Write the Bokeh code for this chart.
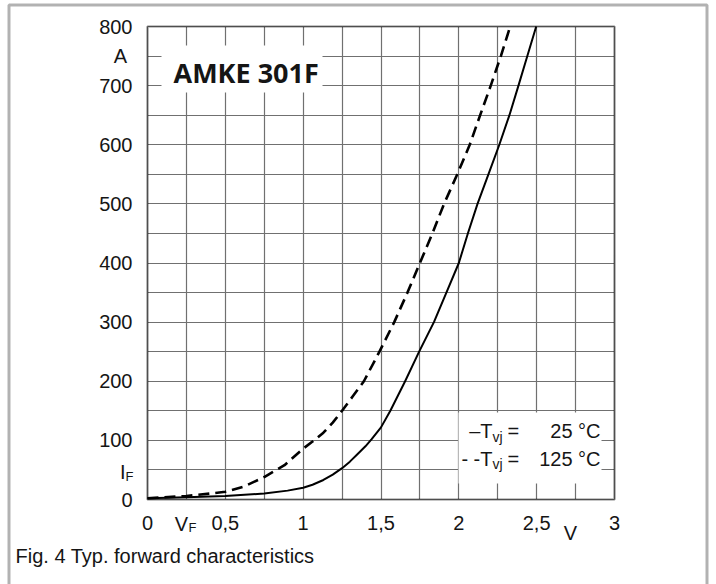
from bokeh.plotting import figure
from bokeh.models import FixedTicker, Label, BoxAnnotation, Range1d, Grid
from bokeh.embed import file_html
from bokeh.resources import INLINE

# ---- data ----
v_25 = [0, 0.25, 0.5, 0.75, 0.9, 1.0, 1.06, 1.13, 1.19, 1.25, 1.3, 1.35, 1.4, 1.44,
        1.5, 1.56, 1.655, 1.745, 1.84, 1.92, 2.0, 2.058, 2.12, 2.19, 2.26, 2.325,
        2.383, 2.44, 2.497]
i_25 = [2, 4, 6, 10, 15, 20, 25, 33, 42, 53, 64, 77, 90, 102,
        122, 150, 200, 250, 300, 350, 400, 450, 500, 550, 600, 650,
        700, 750, 800]

v_125 = [0, 0.25, 0.4, 0.5, 0.62, 0.75, 0.88, 1.0, 1.06, 1.13, 1.19, 1.25, 1.32,
         1.39, 1.49, 1.585, 1.67, 1.75, 1.83, 1.905, 1.99, 2.07, 2.137, 2.205,
         2.27, 2.33]
i_125 = [2, 6, 10, 13, 22, 38, 58, 86, 98, 113, 130, 150, 175,
         200, 250, 300, 350, 400, 450, 500, 550, 600, 650, 700,
         750, 800]

x_ticks = [0, 0.5, 1, 1.5, 2, 2.5, 3]
x_tick_labels = ["0", "0,5", "1", "1,5", "2", "2,5", "3"]
x_minor = [0.25, 0.75, 1.25, 1.75, 2.25, 2.75]
y_ticks = [0, 100, 200, 300, 400, 500, 600, 700, 800]
y_minor = [50, 150, 250, 350, 450, 550, 650, 750]

title_text = "AMKE 301F"
caption_text = "Fig. 4 Typ. forward characteristics"

# ---- layout (pixel positions of the plotting area inside the canvas) ----
W, H = 716, 584
FL, FR, FT, FB = 147, 614, 26, 499
XMAX, YMAX = 3, 800
FONT = "Liberation Sans"
INK = "#151515"
GRID = "#707070"
SHIFT = 7  # compensation for where the svg text baseline lands


def dx(px):
    return (px - FL) / (FR - FL) * XMAX


def dy(py):
    return (FB - py) / (FB - FT) * YMAX


p = figure(width=W, height=H,
           x_range=Range1d(dx(0), dx(W)), y_range=Range1d(dy(H), dy(0)),
           output_backend="svg", toolbar_location=None)
p.min_border = 0
p.min_border_left = 0
p.min_border_right = 0
p.min_border_top = 0
p.min_border_bottom = 0
p.title.visible = False
p.title_location = None
p.background_fill_color = "white"
p.border_fill_color = "white"
p.outline_line_color = None

# axes, pinned to the edges of the plotting area
p.xaxis.ticker = FixedTicker(ticks=x_ticks, minor_ticks=x_minor)
p.xaxis.major_label_overrides = dict(zip(x_ticks, x_tick_labels))
p.yaxis.ticker = FixedTicker(ticks=y_ticks, minor_ticks=y_minor)
p.xaxis.fixed_location = 0
p.yaxis.fixed_location = 0
for ax in (p.xaxis, p.yaxis):
    ax.axis_line_color = None
    ax.major_tick_line_color = None
    ax.minor_tick_line_color = None
    ax.major_tick_in = 0
    ax.major_tick_out = 0
    ax.minor_tick_in = 0
    ax.minor_tick_out = 0
    ax.major_label_text_font = FONT
    ax.major_label_text_font_size = "20px"
    ax.major_label_text_color = INK
p.xaxis.major_label_standoff = 16
p.yaxis.major_label_standoff = 15

# grid restricted to the plotting area
if "cross_bounds" in Grid.properties():
    p.xgrid.cross_bounds = (0, YMAX)
    p.ygrid.cross_bounds = (0, XMAX)
    for g in (p.xgrid, p.ygrid):
        g.grid_line_color = GRID
        g.grid_line_width = 1.2
        g.minor_grid_line_color = GRID
        g.minor_grid_line_width = 1.2
else:
    for g in (p.xgrid, p.ygrid):
        g.visible = False
    gx = x_ticks + x_minor
    gy = y_ticks + y_minor
    p.segment(x0=gx, y0=[0] * len(gx), x1=gx, y1=[YMAX] * len(gx),
              line_color=GRID, line_width=1.2, level="underlay")
    p.segment(x0=[0] * len(gy), y0=gy, x1=[XMAX] * len(gy), y1=gy,
              line_color=GRID, line_width=1.2, level="underlay")

# curves
p.line(v_25, i_25, line_color="black", line_width=2, line_join="round")
p.line(v_125, i_125, line_color="black", line_width=2.6, line_dash="11 6",
       line_join="round")

# white backgrounds for title and legend
p.add_layout(BoxAnnotation(left=dx(161), right=dx(322), top=dy(45), bottom=dy(92),
                           fill_color="white", fill_alpha=1, line_color=None))
p.add_layout(BoxAnnotation(left=dx(458), right=dx(601), top=dy(412), bottom=dy(483),
                           fill_color="white", fill_alpha=1, line_color=None))

# plotting-area outline
p.add_layout(BoxAnnotation(left=0, right=XMAX, bottom=0, top=YMAX,
                           fill_alpha=0, line_color="black", line_width=2.5))

# outer frame of the figure (open at the bottom edge of the picture)
p.add_layout(BoxAnnotation(left=dx(8.5), right=dx(706.5), top=dy(4.5), bottom=dy(640),
                           fill_alpha=0, line_color="black", line_width=3))


def lab(x, y, text, size="20px", align="left", font=FONT, style="normal"):
    p.add_layout(Label(x=dx(x), y=dy(y - SHIFT), text=text, text_font=font,
                       text_font_size=size, text_font_style=style,
                       text_color=INK, text_align=align,
                       text_baseline="alphabetic"))


# title
lab(173, 79, title_text, size="27px", font="Open Sans", style="bold")

# axis unit / symbol labels
lab(120, 62, "A", align="center")
lab(125, 478, "I", align="right")
lab(125, 483, "F", size="13px")
lab(181, 530, "V", align="center")
lab(188, 534, "F", size="13px")
lab(570, 539, "V", align="center")

# legend
lab(492, 437.5, "\u2013T", align="right")
lab(492, 443, "vj", size="14px")
lab(507, 437.5, "=")
lab(600, 437.5, "25 \u00b0C", align="right")
lab(492, 465, "- -T", align="right")
lab(492, 470.5, "vj", size="14px")
lab(507, 465, "=")
lab(600, 465, "125 \u00b0C", align="right")

# caption
lab(15, 562, caption_text)

open("out.html", "w").write(file_html(p, INLINE))
